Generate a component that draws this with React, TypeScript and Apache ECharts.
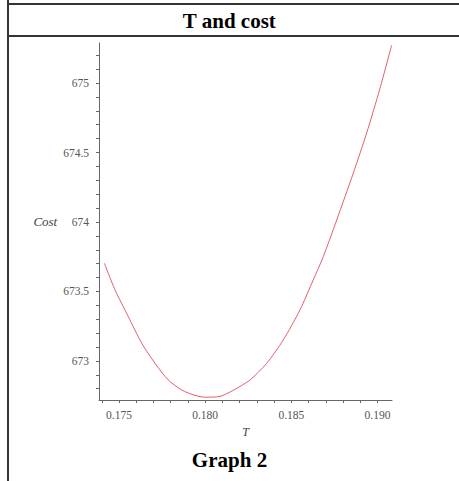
import React, { useEffect, useRef } from "react";
import * as echarts from "echarts";

const tValues = [
  0.17415, 0.17477, 0.17554, 0.17632, 0.17709, 0.17786, 0.17864, 0.17941,
  0.17999, 0.18086, 0.18163, 0.1826, 0.18357, 0.18453, 0.1855, 0.18627,
  0.18685, 0.18763, 0.18859, 0.18937, 0.19014, 0.19082,
];
const costValues = [
  673.703, 673.511, 673.319, 673.127, 672.983, 672.863, 672.791, 672.752,
  672.739, 672.745, 672.789, 672.863, 672.983, 673.151, 673.367, 673.583,
  673.75, 674.014, 674.35, 674.64, 674.96, 675.273,
];
const xTickLabels = [0.175, 0.18, 0.185, 0.19];
const xTicks = [
  0.174, 0.175, 0.176, 0.177, 0.178, 0.179, 0.18, 0.181, 0.182, 0.183, 0.184,
  0.185, 0.186, 0.187, 0.188, 0.189, 0.19,
];
const yTickLabels = [673, 673.5, 674, 674.5, 675];
const yTicks = [
  672.8, 672.9, 673, 673.1, 673.2, 673.3, 673.4, 673.5, 673.6, 673.7, 673.8,
  673.9, 674, 674.1, 674.2, 674.3, 674.4, 674.5, 674.6, 674.7, 674.8, 674.9,
  675, 675.1, 675.2,
];
const titleText = "T and cost";
const captionText = "Graph 2";

export default function App() {
  const ref = useRef<HTMLDivElement>(null);
  useEffect(() => {
    if (!ref.current) return;
    const chart = echarts.init(ref.current, undefined, { renderer: "svg" });
    const serif = "'Liberation Serif', 'DejaVu Serif', serif";
    const labelStyle = { color: "#555", fontFamily: serif, fontSize: 11.5 };
    chart.setOption({
      animation: false,
      backgroundColor: "#fff",
      grid: { left: 99, right: 67, top: 43, bottom: 81 },
      xAxis: {
        type: "value",
        min: 0.17384,
        max: 0.19084,
        name: "T",
        nameLocation: "middle",
        nameGap: 22,
        nameTextStyle: { fontFamily: serif, fontStyle: "italic", fontSize: 12, color: "#444" },
        splitLine: { show: false },
        axisLine: { lineStyle: { color: "#666", width: 1 } },
        axisTick: { customValues: xTicks, length: 3, lineStyle: { color: "#666" } },
        axisLabel: {
          customValues: xTickLabels,
          margin: 9,
          ...labelStyle,
          formatter: (v: number) => v.toFixed(3),
        },
      },
      yAxis: {
        type: "value",
        min: 672.719,
        max: 675.288,
        name: "Cost",
        nameLocation: "middle",
        nameRotate: 0,
        nameGap: 41,
        nameTextStyle: { fontFamily: serif, fontStyle: "italic", fontSize: 13, color: "#444" },
        splitLine: { show: false },
        axisLine: { show: true, lineStyle: { color: "#666", width: 1 } },
        axisTick: { show: true, customValues: yTicks, length: 3, lineStyle: { color: "#666" } },
        axisLabel: {
          customValues: yTickLabels,
          margin: 10,
          ...labelStyle,
          formatter: (v: number) => String(Math.round(v * 10) / 10),
        },
      },
      series: [
        {
          type: "line",
          data: tValues.map((t, i) => [t, costValues[i]]),
          smooth: 0.25,
          showSymbol: false,
          lineStyle: { color: "#e0606e", width: 1 },
        },
      ],
      graphic: [
        { type: "line", shape: { x1: 8, y1: 0, x2: 8, y2: 481 }, style: { stroke: "#333", lineWidth: 2 } },
        { type: "line", shape: { x1: 8, y1: 4, x2: 459, y2: 4 }, style: { stroke: "#333", lineWidth: 2 } },
        { type: "line", shape: { x1: 8, y1: 36, x2: 459, y2: 36 }, style: { stroke: "#333", lineWidth: 2 } },
        {
          type: "text",
          left: "center",
          top: 10,
          style: { text: titleText, font: `900 21px ${serif}`, fill: "#000" },
          x: 8,
        },
        {
          type: "text",
          left: "center",
          top: 449,
          style: { text: captionText, font: `900 21px ${serif}`, fill: "#000" },
          x: 8,
        },
      ],
    });
    return () => chart.dispose();
  }, []);
  return (
    <div
      ref={ref}
      style={{ position: "fixed", left: 0, top: 0, width: 459, height: 481 }}
    />
  );
}
